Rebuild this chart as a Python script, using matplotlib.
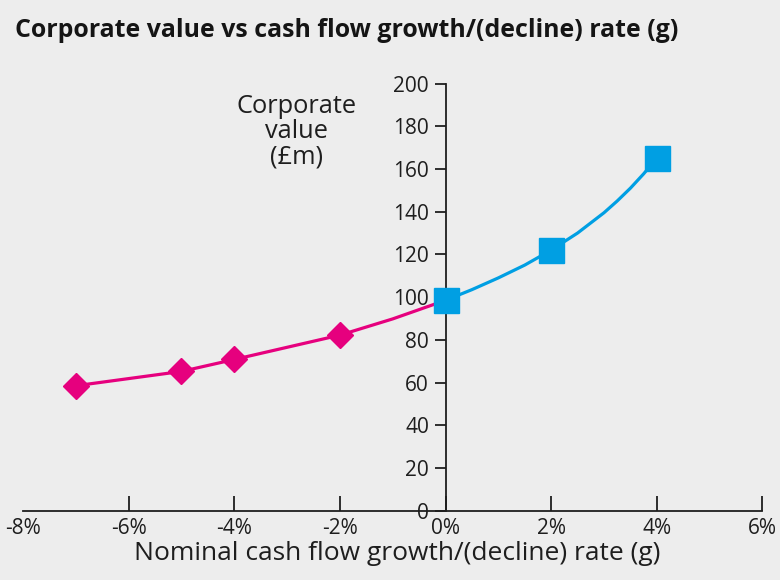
import matplotlib.pyplot as plt

plt.rcParams['font.family'] = ['Open Sans', 'DejaVu Sans']

# values
neg_g = [-7, -5, -4, -2]
neg_val = [58.5, 65.2, 70.8, 82.2]
neg_line_g = [-7, -5, -4, -2, -1, 0]
neg_line_val = [58.5, 65.2, 70.8, 82.2, 89.8, 98.5]

pos_g = [0, 2, 4]
pos_val = [98.5, 122, 165]
pos_line_g = [0, 0.5, 1, 1.5, 2, 2.5, 3, 3.25, 3.5, 3.75, 4]
pos_line_val = [98.5, 103.5, 109, 115, 122, 130, 139.5, 145, 151, 157.7, 165]

x_ticks = [-8, -6, -4, -2, 0, 2, 4, 6]
y_ticks = list(range(0, 201, 20))

bg = '#ededed'
pink = '#e6007e'
blue = '#009fe3'
ink = '#1e1e1e'

fig = plt.figure(figsize=(7.8, 5.8), dpi=100, facecolor=bg)
ax = fig.add_axes([0.0295, 0.1195, 0.948, 0.7365], facecolor=bg)

ax.plot(neg_line_g, neg_line_val, color=pink, lw=2.3, zorder=2)
ax.plot(neg_g, neg_val, 'D', color=pink, ms=13.5, zorder=3)
ax.plot(pos_line_g, pos_line_val, color=blue, lw=2.3, zorder=2)
ax.plot(pos_g, pos_val, 's', color=blue, ms=18, zorder=4)

ax.set_xlim(-8, 6)
ax.set_ylim(0, 200)
ax.spines['top'].set_visible(False)
ax.spines['right'].set_visible(False)
ax.spines['left'].set_position(('data', 0))
ax.spines['bottom'].set_position(('data', 0))
for s in ['left', 'bottom']:
    ax.spines[s].set_color(ink)
    ax.spines[s].set_linewidth(1.3)

ax.set_xticks(x_ticks)
ax.set_xticklabels([f'{t}%' for t in x_ticks])
ax.set_yticks(y_ticks)
ax.tick_params(axis='x', direction='in', length=11, width=1.3, color=ink,
               labelsize=15, pad=5, labelcolor=ink)
ax.tick_params(axis='y', direction='out', length=8, width=1.3, color=ink,
               labelsize=15, pad=4, labelcolor=ink)
ax.xaxis.get_major_ticks()[0].tick1line.set_visible(False)

ax.text(-2.82, 177.5, 'Corporate\nvalue\n(£m)', ha='center', va='center',
        fontsize=18.3, color=ink, linespacing=1.02)

fig.text(0.019, 0.948, 'Corporate value vs cash flow growth/(decline) rate (g)',
         fontsize=17.9, fontweight='bold', color='#151515', va='center')
fig.text(0.509, 0.046, 'Nominal cash flow growth/(decline) rate (g)',
         fontsize=19, color=ink, ha='center', va='center')

fig.savefig('out.png', dpi=100, facecolor=bg)
